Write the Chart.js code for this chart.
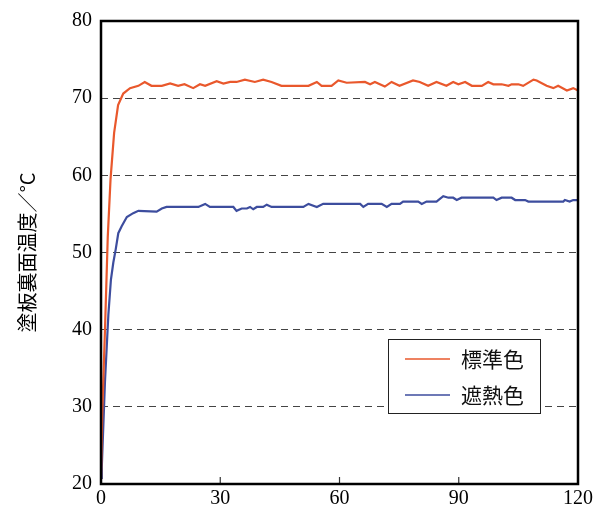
<!DOCTYPE html>
<html>
<head>
<meta charset="utf-8">
<script src="https://cdn.jsdelivr.net/npm/chart.js@4"></script>
<style>
  html, body { margin: 0; padding: 0; background: #fff; }
  #wrap { width: 602px; height: 511px; }
</style>
</head>
<body>
<div id="wrap"><canvas id="chart" width="602" height="511"></canvas></div>
<script>
//Series labels
const seriesNames = ["標準色", "遮熱色"];
//Time (min) and temperature for the standard colour
const timeStd = [0, 0.3, 1.0, 1.7, 2.4, 3.3, 4.3, 5.6, 7.3, 9.4, 11, 12.7, 15.3, 17.4, 19.4, 21, 23.2, 24.9, 26.2, 29.1, 30.8, 32.5, 34.1, 36.2, 38.7, 40.8, 42.9, 45.4, 52.2, 54.3, 55.5, 58, 59.7, 61.8, 66.4, 67.7, 68.9, 71.4, 73.1, 75.1, 78.5, 80.2, 82.3, 84.4, 86.9, 88.6, 89.9, 91.6, 93.3, 95.8, 97.4, 98.7, 100.8, 102.5, 103.3, 105, 106.2, 108.8, 109.6, 112.1, 113.8, 115, 117.2, 118.8, 120];
const tempStd = [20.5, 29, 40, 52, 59.5, 65.5, 69.1, 70.6, 71.3, 71.6, 72.1, 71.6, 71.6, 71.9, 71.6, 71.8, 71.3, 71.8, 71.6, 72.2, 71.9, 72.1, 72.1, 72.4, 72.1, 72.4, 72.1, 71.6, 71.6, 72.1, 71.6, 71.6, 72.3, 72.0, 72.1, 71.8, 72.1, 71.5, 72.1, 71.6, 72.3, 72.1, 71.6, 72.1, 71.6, 72.1, 71.8, 72.1, 71.6, 71.6, 72.1, 71.8, 71.8, 71.6, 71.8, 71.8, 71.6, 72.4, 72.3, 71.6, 71.3, 71.6, 71.0, 71.3, 71.0];
//Time (min) and temperature for the heat-shielding colour
const timeShade = [0, 0.2, 1, 1.85, 2.5, 3.1, 3.7, 4.35, 5.2, 6.5, 8.1, 9.4, 14, 15.3, 16.5, 24.5, 26.2, 27.4, 33.3, 34.1, 35.4, 36.7, 37.5, 38.3, 39.2, 40.8, 41.7, 42.9, 50.9, 52.2, 54.3, 55.9, 65.2, 66, 67.2, 70.6, 71.9, 73.1, 75.2, 76, 79.8, 80.7, 81.9, 84.4, 86.1, 87.4, 88.6, 89.5, 90.7, 98.7, 99.5, 100.8, 103.3, 104.2, 106.7, 107.5, 116.3, 116.7, 117.9, 118.8, 120];
const tempShade = [20.8, 22.2, 33.3, 41.9, 46.5, 48.7, 50.4, 52.5, 53.4, 54.6, 55.1, 55.4, 55.3, 55.7, 55.9, 55.9, 56.3, 55.9, 55.9, 55.4, 55.7, 55.7, 55.9, 55.6, 55.9, 55.9, 56.2, 55.9, 55.9, 56.3, 55.9, 56.3, 56.3, 55.9, 56.3, 56.3, 55.9, 56.3, 56.3, 56.6, 56.6, 56.3, 56.6, 56.6, 57.3, 57.1, 57.1, 56.8, 57.1, 57.1, 56.8, 57.1, 57.1, 56.8, 56.8, 56.6, 56.6, 56.8, 56.6, 56.8, 56.8];
//Axis ticks
const xTicks = [0, 30, 60, 90, 120];
const yTicks = [20, 30, 40, 50, 60, 70, 80];

const lineColors = ["#e9582c", "#3d4d9e"];
const serif = "'Liberation Serif', 'Times New Roman', serif";
const cjk = "'Noto Sans CJK JP', sans-serif";

const toPoints = (xs, ys) => xs.map((x, i) => ({ x: x, y: ys[i] }));

//Frame, inward x ticks and boxed legend
const framePlugin = {
  id: "frame",
  afterDatasetsDraw(chart) {
    const { ctx, chartArea: a, scales } = chart;
    ctx.save();
    //inward ticks on the bottom axis
    ctx.strokeStyle = "#333";
    ctx.lineWidth = 1.2;
    xTicks.slice(1, -1).forEach((v) => {
      const px = scales.x.getPixelForValue(v);
      ctx.beginPath();
      ctx.moveTo(px, a.bottom);
      ctx.lineTo(px, a.bottom - 7);
      ctx.stroke();
    });
    //plot frame
    ctx.strokeStyle = "#000";
    ctx.lineWidth = 2.5;
    ctx.strokeRect(a.left, a.top, a.right - a.left, a.bottom - a.top);
    //legend box
    const bx = a.left + 287, by = a.top + 318, bw = 152, bh = 74;
    ctx.fillStyle = "#fff";
    ctx.fillRect(bx, by, bw, bh);
    ctx.lineWidth = 1;
    ctx.strokeStyle = "#222";
    ctx.strokeRect(bx + 0.5, by + 0.5, bw, bh);
    chart.data.datasets.forEach((ds, i) => {
      const y = by + 20 + i * 36;
      ctx.strokeStyle = ds.borderColor;
      ctx.lineWidth = 1.5;
      ctx.beginPath();
      ctx.moveTo(bx + 17, y);
      ctx.lineTo(bx + 62, y);
      ctx.stroke();
      ctx.fillStyle = "#111";
      ctx.font = "21px " + cjk;
      ctx.textBaseline = "middle";
      ctx.fillText(ds.label, bx + 73, y);
    });
    ctx.restore();
  }
};

new Chart(document.getElementById("chart"), {
  type: "line",
  data: {
    datasets: [
      { label: seriesNames[0], data: toPoints(timeStd, tempStd), borderColor: lineColors[0], borderWidth: 2.2 },
      { label: seriesNames[1], data: toPoints(timeShade, tempShade), borderColor: lineColors[1], borderWidth: 2.2 }
    ]
  },
  plugins: [framePlugin],
  options: {
    responsive: false,
    animation: false,
    layout: { padding: { left: 0, right: 24, top: 15, bottom: 0 } },
    elements: { point: { radius: 0 }, line: { tension: 0 } },
    plugins: { legend: { display: false }, tooltip: { enabled: false } },
    scales: {
      x: {
        type: "linear",
        min: 0,
        max: 120,
        afterBuildTicks: (s) => { s.ticks = xTicks.map((v) => ({ value: v })); },
        ticks: { color: "#000", font: { family: serif, size: 20 }, padding: 3, maxRotation: 0 },
        grid: { display: false, drawTicks: false },
        border: { display: false },
        afterFit: (s) => { s.height = 27; }
      },
      y: {
        min: 20,
        max: 80,
        afterBuildTicks: (s) => { s.ticks = yTicks.map((v) => ({ value: v })); },
        ticks: { color: "#000", font: { family: serif, size: 20 }, padding: 9 },
        grid: {
          drawTicks: false,
          lineWidth: 1,
          color: (c) => (c.tick && (c.tick.value === 20 || c.tick.value === 80) ? "rgba(0,0,0,0)" : "#444")
        },
        border: { display: false, dash: [7, 5] },
        title: {
          display: true,
          text: "塗板裏面温度／°C",
          color: "#000",
          font: { family: cjk, size: 20 },
          padding: { top: 15, bottom: 0 }
        },
        afterFit: (s) => { s.width = 101; }
      }
    }
  }
});
</script>
</body>
</html>
